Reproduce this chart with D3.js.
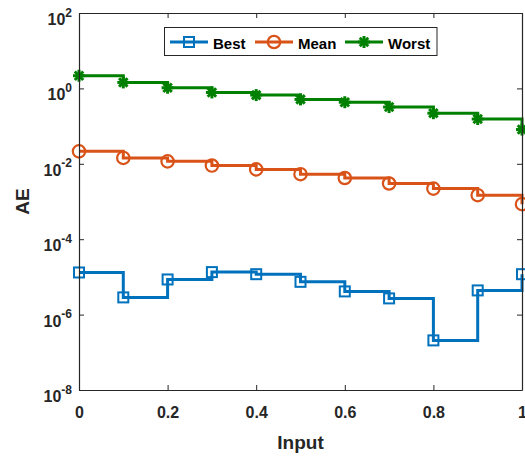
<!DOCTYPE html>
<html>
<head>
<meta charset="utf-8">
<script src="https://cdn.jsdelivr.net/npm/d3@7"></script>
<style>
  html, body { margin: 0; padding: 0; background: #fff; overflow: hidden; }
  svg { display: block; font-family: "Liberation Sans", Arial, sans-serif; }
</style>
</head>
<body>
<svg id="chart" width="525" height="457"></svg>
<script>
// Absolute error per input, three statistics drawn as stairs on a log scale
const inputs = [0, 0.1, 0.2, 0.3, 0.4, 0.5, 0.6, 0.7, 0.8, 0.9, 1.0];
const best   = [1.31e-5, 2.86e-6, 8.55e-6, 1.34e-5, 1.18e-5, 7.4e-6, 4.12e-6, 2.69e-6, 2.07e-7, 4.38e-6, 1.18e-5];
const mean   = [0.0214, 0.0143, 0.0116, 0.0090, 0.0071, 0.0053, 0.0042, 0.0030, 0.0022, 0.00147, 0.00085];
const worst  = [2.17, 1.44, 1.04, 0.78, 0.665, 0.51, 0.43, 0.32, 0.22, 0.154, 0.081];

const seriesNames = ["Best", "Mean", "Worst"];
const seriesColors = ["#0072BD", "#D95319", "#008000"];
const seriesMarkers = ["square", "circle", "asterisk"];

const xTicks = [0, 0.2, 0.4, 0.6, 0.8, 1];
const yTicks = [1e-8, 1e-6, 1e-4, 1e-2, 1e0, 1e2];
const yTickExponents = ["-8", "-6", "-4", "-2", "0", "2"];

const xLabel = "Input";
const yLabel = "AE";

const axisColor = "#262626";
const plotLeft = 79, plotRight = 522, plotTop = 13, plotBottom = 390;

const svg = d3.select("#chart");

const x = d3.scaleLinear().domain([0, 1]).range([plotLeft, plotRight]);
const y = d3.scaleLog().domain([1e-8, 1e2]).range([plotBottom, plotTop]);

const series = [best, mean, worst].map((vals, i) => ({
  name: seriesNames[i],
  color: seriesColors[i],
  marker: seriesMarkers[i],
  points: inputs.map((xv, j) => ({ x: xv, y: vals[j] }))
}));

// marker drawing
function drawMarker(g, type, color, cx, cy) {
  if (type === "square") {
    g.append("rect")
      .attr("x", cx - 5).attr("y", cy - 5)
      .attr("width", 10).attr("height", 10)
      .attr("fill", "none").attr("stroke", color).attr("stroke-width", 2);
  } else if (type === "circle") {
    g.append("circle")
      .attr("cx", cx).attr("cy", cy).attr("r", 6.2)
      .attr("fill", "none").attr("stroke", color).attr("stroke-width", 2.2);
  } else {
    const r = 6, d = r * Math.SQRT1_2;
    const segs = [[-r, 0, r, 0], [0, -r, 0, r], [-d, -d, d, d], [-d, d, d, -d]];
    segs.forEach(s => {
      g.append("line")
        .attr("x1", cx + s[0]).attr("y1", cy + s[1])
        .attr("x2", cx + s[2]).attr("y2", cy + s[3])
        .attr("stroke", color).attr("stroke-width", 3);
    });
  }
}

// stairs lines
const line = d3.line()
  .x(d => x(d.x))
  .y(d => y(d.y))
  .curve(d3.curveStepAfter);

const plot = svg.append("g");
series.forEach(s => {
  plot.append("path")
    .datum(s.points)
    .attr("fill", "none")
    .attr("stroke", s.color)
    .attr("stroke-width", 3)
    .attr("d", line);
  const mg = plot.append("g");
  s.points.forEach(p => drawMarker(mg, s.marker, s.color, x(p.x), y(p.y)));
});

// axes
const fmtX = d => (d === 0 || d === 1) ? String(d) : d.toFixed(1);

const xAxis = svg.append("g")
  .attr("transform", `translate(0,${plotBottom})`)
  .call(d3.axisBottom(x).tickValues(xTicks).tickFormat(fmtX).tickSizeInner(-5).tickSizeOuter(0).tickPadding(17));

const xAxisTop = svg.append("g")
  .attr("transform", `translate(0,${plotTop})`)
  .call(d3.axisTop(x).tickValues(xTicks).tickFormat("").tickSizeInner(-5).tickSizeOuter(0));

const yAxis = svg.append("g")
  .attr("transform", `translate(${plotLeft},0)`)
  .call(d3.axisLeft(y).tickValues(yTicks).tickFormat("").tickSizeInner(-5).tickSizeOuter(0));

const yAxisRight = svg.append("g")
  .attr("transform", `translate(${plotRight},0)`)
  .call(d3.axisRight(y).tickValues(yTicks).tickFormat("").tickSizeInner(-5).tickSizeOuter(0));

[xAxis, xAxisTop, yAxis, yAxisRight].forEach(g => {
  g.select(".domain").attr("stroke", axisColor).attr("stroke-width", 1.2);
  g.selectAll(".tick line").attr("stroke", axisColor).attr("stroke-width", 1);
});

xAxis.selectAll(".tick text")
  .attr("fill", axisColor)
  .attr("font-size", 16)
  .attr("font-weight", "bold")
  .attr("font-family", "Liberation Sans, Arial, sans-serif");

// y tick labels as 10 with superscript exponent
yTicks.forEach((v, i) => {
  const t = svg.append("text")
    .attr("x", plotLeft - 7)
    .attr("y", y(v) + 12)
    .attr("text-anchor", "end")
    .attr("fill", axisColor)
    .attr("font-weight", "bold")
    .attr("font-size", 16);
  t.append("tspan").text("10");
  t.append("tspan")
    .attr("font-size", 12)
    .attr("dy", -8.5)
    .text(yTickExponents[i]);
});

// axis labels
svg.append("text")
  .attr("x", (plotLeft + plotRight) / 2)
  .attr("y", 449)
  .attr("text-anchor", "middle")
  .attr("fill", axisColor)
  .attr("font-weight", "bold")
  .attr("font-size", 19)
  .text(xLabel);

svg.append("text")
  .attr("transform", `translate(29,${(plotTop + plotBottom) / 2}) rotate(-90)`)
  .attr("text-anchor", "middle")
  .attr("fill", axisColor)
  .attr("font-weight", "bold")
  .attr("font-size", 19)
  .text(yLabel);

// legend
const legend = svg.append("g");
legend.append("rect")
  .attr("x", 164.5).attr("y", 27.5)
  .attr("width", 272.5).attr("height", 28)
  .attr("fill", "#fff")
  .attr("stroke", axisColor)
  .attr("stroke-width", 1);

const legendX = [170, 255, 345];
series.forEach((s, i) => {
  const lx = legendX[i], ly = 42;
  legend.append("line")
    .attr("x1", lx).attr("x2", lx + 38)
    .attr("y1", ly).attr("y2", ly)
    .attr("stroke", s.color).attr("stroke-width", 3);
  drawMarker(legend, s.marker, s.color, lx + 19, ly);
  legend.append("text")
    .attr("x", lx + 43)
    .attr("y", ly + 6.5)
    .attr("fill", "#000")
    .attr("font-weight", "bold")
    .attr("font-size", 15)
    .text(s.name);
});
</script>
</body>
</html>
